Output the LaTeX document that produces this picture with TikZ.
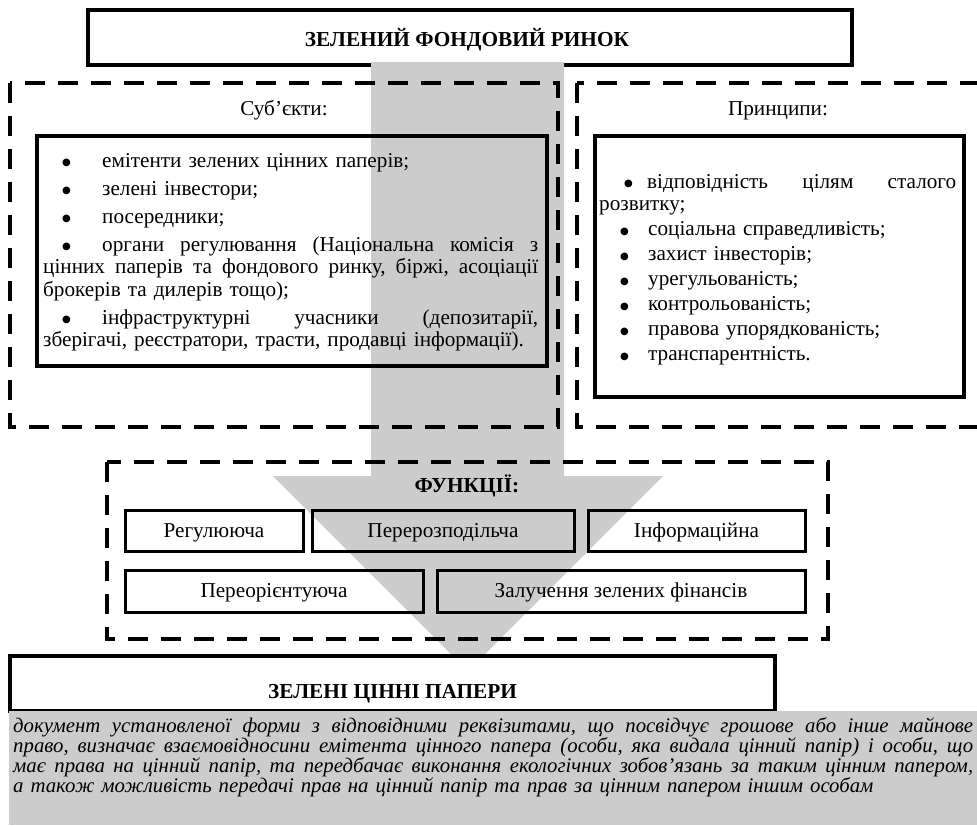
\documentclass[tikz,border=0pt]{standalone}
\usepackage{fontspec}
\setmainfont{Liberation Serif}
\newfontfamily\bltfont{DejaVu Sans}
\definecolor{arrowgray}{RGB}{204,204,204}
\newcommand{\jline}[2]{\leavevmode\hbox to #1{\frenchspacing\spaceskip=0.25em plus 1fil minus 0.08em\relax #2}}
\newcommand{\blt}{\raisebox{1.5pt}{\bltfont\fontsize{10}{10}\selectfont ●}}
\tikzset{
  solidbox/.style={draw=black, line width=3.2pt, inner sep=0pt},
  fnbox/.style={draw=black, line width=3pt, inner sep=0pt},
  dashframe/.style={draw=black, line width=4.5pt, dash pattern=on 20pt off 13pt},
  titletext/.style={font=\fontsize{21.3}{24}\selectfont\bfseries, inner sep=0pt},
  plaintext/.style={font=\fontsize{21.2}{22.5}\selectfont, inner sep=0pt},
  listtext/.style={font=\fontsize{21.2}{22.5}\selectfont, inner sep=0pt, align=left},
  deftext/.style={font=\fontsize{20.8}{20}\selectfont\itshape, inner sep=0pt, align=left},
}
\begin{document}
\begin{tikzpicture}[x=1pt,y=-1pt]
\useasboundingbox (0,0) rectangle (977,825);
\fill[white] (0,0) rectangle (977,825);

% top box
\node[solidbox, fill=white, minimum width=764pt, minimum height=55pt] (top) at (470,37.5) {};
\node[titletext, anchor=base] (toptitle) at (467,46.5) {ЗЕЛЕНИЙ ФОНДОВИЙ РИНОК};

% big gray arrow
\fill[arrowgray] (371,62) -- (564,62) -- (564,476) -- (663,476) -- (468,671) -- (273,476) -- (371,476) -- cycle;

% subjects
\draw[dashframe] (10,83) rectangle (558,427);
\node[plaintext, anchor=base] (subjtitle) at (284,115) {Суб’єкти:};
\node[solidbox, minimum width=510pt, minimum height=230pt] (subjbox) at (292,251) {};
\node[listtext, text width=495pt, anchor=base west] (subjlist) at (43,167) {%
\hspace*{19pt}\makebox[40pt][l]{\blt}емітенти зелених цінних паперів;\\[5.5pt]
\hspace*{19pt}\makebox[40pt][l]{\blt}зелені інвестори;\\[5.5pt]
\hspace*{19pt}\makebox[40pt][l]{\blt}посередники;\\[5.5pt]
\jline{495pt}{\hspace*{19pt}\makebox[40pt][l]{\blt}органи регулювання (Національна комісія з}\\
\jline{495pt}{цінних паперів та фондового ринку, біржі, асоціації}\\
брокерів та дилерів тощо);\\[5.5pt]
\jline{495pt}{\hspace*{19pt}\makebox[40pt][l]{\blt}інфраструктурні учасники (депозитарії,}\\
зберігачі, реєстратори, трасти, продавці інформації).};

% principles
\draw[dashframe] (577,83) rectangle (979,427);
\node[plaintext, anchor=base] (printitle) at (778,115) {Принципи:};
\node[solidbox, minimum width=369pt, minimum height=261pt] (prinbox) at (779.5,266.5) {};
\node[listtext, text width=357pt, anchor=base west] (prinlist) at (599,188) {%
\jline{357pt}{\hspace*{25pt}\makebox[23pt][l]{\blt}відповідність цілям сталого}\\
розвитку;\\[2.5pt]
\hspace*{21pt}\makebox[28pt][l]{\blt}соціальна справедливість;\\[2.5pt]
\hspace*{21pt}\makebox[28pt][l]{\blt}захист інвесторів;\\[2.5pt]
\hspace*{21pt}\makebox[28pt][l]{\blt}урегульованість;\\[2.5pt]
\hspace*{21pt}\makebox[28pt][l]{\blt}контрольованість;\\[2.5pt]
\hspace*{21pt}\makebox[28pt][l]{\blt}правова упорядкованість;\\[2.5pt]
\hspace*{21pt}\makebox[28pt][l]{\blt}транспарентність.};

% functions
\draw[dashframe] (107,462) rectangle (828,639);
\node[titletext, anchor=base] (fntitle) at (467,492) {ФУНКЦІЇ:};
\node[fnbox, minimum width=178pt, minimum height=41pt] (f1) at (214,530.5) {};
\node[fnbox, minimum width=262pt, minimum height=41pt] (f2) at (443,530.5) {};
\node[fnbox, minimum width=217pt, minimum height=41pt] (f3) at (696.5,530.5) {};
\node[fnbox, minimum width=298pt, minimum height=42pt] (f4) at (274,591) {};
\node[fnbox, minimum width=368pt, minimum height=42pt] (f5) at (621,591) {};
\node[plaintext, anchor=base] (f1t) at (214,537) {Регулююча};
\node[plaintext, anchor=base] (f2t) at (443,537) {Перерозподільча};
\node[plaintext, anchor=base] (f3t) at (696.5,537) {Інформаційна};
\node[plaintext, anchor=base] (f4t) at (274,597.5) {Переорієнтуюча};
\node[plaintext, anchor=base] (f5t) at (621,597.5) {Залучення зелених фінансів};

% green securities
\node[solidbox, fill=white, minimum width=765pt, minimum height=55pt] (gsbox) at (392.5,683.5) {};
\node[titletext, anchor=base] (gstitle) at (392.5,698) {ЗЕЛЕНІ ЦІННІ ПАПЕРИ};
\fill[arrowgray] (9,711) rectangle (977,825);
\node[deftext, text width=960pt, anchor=base west] (gsdef) at (13,732.5) {%
\jline{960pt}{документ установленої форми з відповідними реквізитами, що посвідчує грошове або інше майнове}\\
\jline{960pt}{право, визначає взаємовідносини емітента цінного папера (особи, яка видала цінний папір) і особи, що}\\
\jline{960pt}{має права на цінний папір, та передбачає виконання екологічних зобов’язань за таким цінним папером,}\\
а також можливість передачі прав на цінний папір та прав за цінним папером іншим особам};
\end{tikzpicture}
\end{document}
